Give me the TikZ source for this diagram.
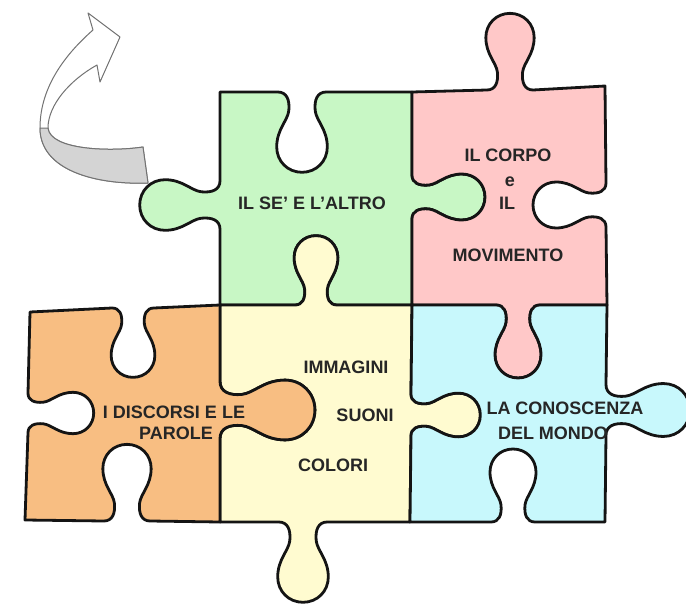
\documentclass[tikz,border=0pt]{standalone}
\usepackage{fontspec}
\setmainfont{Liberation Sans}
% knob / hole segment: base point (#1,#2), edge direction (#3,#4), bump direction (#5,#6), scale #7
\newcommand\K[7]{%
 -- ({#1+#7*(-22*(#3)+0*(#5))},{#2+#7*(-22*(#4)+0*(#6))})
 .. controls ({#1+#7*(-14*(#3)+0*(#5))},{#2+#7*(-14*(#4)+0*(#6))})
 and ({#1+#7*(-11*(#3)+7*(#5))},{#2+#7*(-11*(#4)+7*(#6))})
 .. ({#1+#7*(-12*(#3)+17*(#5))},{#2+#7*(-12*(#4)+17*(#6))})
 .. controls ({#1+#7*(-13*(#3)+26*(#5))},{#2+#7*(-13*(#4)+26*(#6))})
 and ({#1+#7*(-23*(#3)+34*(#5))},{#2+#7*(-23*(#4)+34*(#6))})
 .. ({#1+#7*(-23*(#3)+50*(#5))},{#2+#7*(-23*(#4)+50*(#6))})
 .. controls ({#1+#7*(-23*(#3)+63*(#5))},{#2+#7*(-23*(#4)+63*(#6))})
 and ({#1+#7*(-13*(#3)+73*(#5))},{#2+#7*(-13*(#4)+73*(#6))})
 .. ({#1+#7*(0*(#3)+73*(#5))},{#2+#7*(0*(#4)+73*(#6))})
 .. controls ({#1+#7*(13*(#3)+73*(#5))},{#2+#7*(13*(#4)+73*(#6))})
 and ({#1+#7*(23*(#3)+63*(#5))},{#2+#7*(23*(#4)+63*(#6))})
 .. ({#1+#7*(23*(#3)+50*(#5))},{#2+#7*(23*(#4)+50*(#6))})
 .. controls ({#1+#7*(23*(#3)+34*(#5))},{#2+#7*(23*(#4)+34*(#6))})
 and ({#1+#7*(13*(#3)+26*(#5))},{#2+#7*(13*(#4)+26*(#6))})
 .. ({#1+#7*(12*(#3)+17*(#5))},{#2+#7*(12*(#4)+17*(#6))})
 .. controls ({#1+#7*(11*(#3)+7*(#5))},{#2+#7*(11*(#4)+7*(#6))})
 and ({#1+#7*(14*(#3)+0*(#5))},{#2+#7*(14*(#4)+0*(#6))})
 .. ({#1+#7*(22*(#3)+0*(#5))},{#2+#7*(22*(#4)+0*(#6))})
}
\definecolor{pgreen}{RGB}{200,247,197}
\definecolor{ppink}{RGB}{255,200,200}
\definecolor{porange}{RGB}{248,190,130}
\definecolor{pyellow}{RGB}{255,251,208}
\definecolor{pcyan}{RGB}{200,248,252}
\definecolor{txt}{RGB}{38,38,38}
\begin{document}
\begin{tikzpicture}[x=0.5pt,y=-0.5pt,
  piece/.style={draw=black!92, line width=1.4pt, line join=round},
  lbl/.style={font=\bfseries\fontsize{9}{10}\selectfont, text=txt, inner sep=0pt},
  arrowline/.style={draw=black!55, line width=0.5pt, line join=round}]
\useasboundingbox (0,0) rectangle (686,605);
\fill[white] (0,0) rectangle (686,605);
% curved arrow
\path[arrowline, fill=white] (148,183) .. controls (95,185) and (40,170) .. (40,128)
  .. controls (40,85) and (68,52) .. (93,30) -- (88,13) -- (120,37) -- (100,82) -- (97,65)
  .. controls (70,80) and (48,105) .. (48,128)
  .. controls (50,150) and (110,152) .. (143,147) -- cycle;
\path[arrowline, fill=black!17] (148,183) .. controls (95,185) and (40,170) .. (40,128)
  -- (48,128) .. controls (50,150) and (110,152) .. (143,147) -- cycle;
% green piece
\path[piece, fill=pgreen] (220,92) \K{302}{92}{1}{0}{0}{1}{1.1} -- (412,92)
  \K{412}{197}{0}{1}{1}{0}{1.0} -- (412,305)
  \K{316}{305}{-1}{0}{0}{-1}{0.95} -- (220,305)
  \K{220}{205}{0}{-1}{-1}{0}{1.1} -- cycle;
% pink piece
\path[piece, fill=ppink] (412,92) \K{510}{90}{1}{0}{0}{-1}{1.05} -- (605,86)
  \K{606}{205}{0}{1}{-1}{0}{1.0} -- (607,305)
  \K{518}{305}{-1}{0}{0}{1}{1.0} -- (412,305)
  \K{412}{197}{0}{-1}{1}{0}{1.0} -- cycle;
% yellow piece
\path[piece, fill=pyellow] (220,305) \K{316}{305}{1}{0}{0}{-1}{0.95} -- (412,305)
  \K{411}{415}{0}{1}{1}{0}{0.95} -- (410,522)
  \K{303}{522}{-1}{0}{0}{1}{1.1} -- (220,522)
  \K{220}{410}{0}{-1}{1}{0}{1.3} -- cycle;
% orange piece
\path[piece, fill=porange] (30,312) \K{133}{308}{1}{0}{0}{1}{0.95} -- (220,305)
  \K{220}{410}{0}{1}{1}{0}{1.3} -- (220,522)
  \K{127}{521}{-1}{0}{0}{-1}{1.05} -- (25,520)
  \K{28}{413}{0}{-1}{1}{0}{0.9} -- cycle;
% cyan piece
\path[piece, fill=pcyan] (412,305) \K{518}{305}{1}{0}{0}{1}{1.0} -- (607,305)
  \K{606}{410}{0}{1}{1}{0}{1.15} -- (605,522)
  \K{513}{522}{-1}{0}{0}{-1}{1.0} -- (410,522)
  \K{411}{415}{0}{-1}{1}{0}{0.95} -- cycle;
% labels
\node[lbl] (se) at (312,203) {IL SE' E L'ALTRO};
\node[lbl] (corpo) at (508,155) {IL CORPO};
\node[lbl] (e) at (510,182) {e};
\node[lbl] (il) at (507,203) {IL};
\node[lbl] (mov) at (508,255) {MOVIMENTO};
\node[lbl] (imm) at (346,367) {IMMAGINI};
\node[lbl] (suoni) at (365,415) {SUONI};
\node[lbl] (colori) at (333,465) {COLORI};
\node[lbl] (disc) at (174,412) {I DISCORSI E LE};
\node[lbl] (parole) at (176,433) {PAROLE};
\node[lbl] (con) at (565,408) {LA CONOSCENZA};
\node[lbl] (mondo) at (553,433) {DEL MONDO};
\end{tikzpicture}
\end{document}
